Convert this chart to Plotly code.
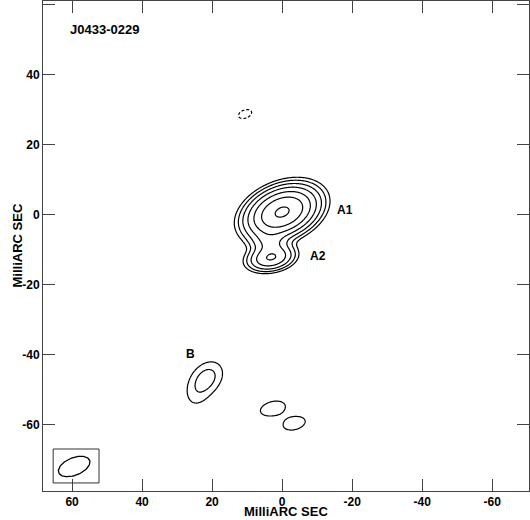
import numpy as np
import plotly.graph_objects as go

# ---- data: source components (relative milliarcsec, level units) ----
comp_names = ["A1", "A2", "bridge", "B", "B_ext", "C1", "C2", "neg"]
comp_x = [0.0, 3.2, 3.5, 21.4, 24.5, 2.7, -3.5, 10.6]
comp_y = [0.7, -12.4, -8.0, -46.6, -51.5, -55.4, -59.7, 28.7]
comp_peak = [70.0, 16.1, 7.5, 2.45, 1.0, 1.6, 1.5, -1.3]
comp_smaj = [4.9, 3.4, 2.9, 3.7, 3.6, 3.7, 3.5, 2.7]
comp_smin = [3.1, 1.85, 2.2, 2.8, 2.8, 2.0, 1.95, 1.6]
comp_pa = [22.0, 10.0, 0.0, 48.0, 70.0, 15.0, 15.0, 20.0]

pos_levels = [1, 2, 4, 8, 16, 32, 64]
neg_levels = [-1]

beam_x = [59.4]
beam_y = [-72.0]
beam_a = [4.75]
beam_b = [2.5]
beam_pa = [22.0]

tick_vals = [-60, -40, -20, 0, 20, 40, 60]
tick_text = ["-60", "-40", "-20", "0", "20", "40", "60"]

labels_text = ["A1", "A2", "B"]
labels_x = [-18.0, -10.3, 26.3]
labels_y = [1.3, -11.9, -39.9]

# ---- build model image ----
gx = np.arange(-16, 34, 0.2)
gy = np.arange(-68, 36, 0.2)
X, Y = np.meshgrid(gx, gy)
Z = np.zeros_like(X)
for x0, y0, p, sa, sb, pa in zip(comp_x, comp_y, comp_peak, comp_smaj, comp_smin, comp_pa):
    t = np.deg2rad(pa)
    dx = -(X - x0)  # display: east to the left
    dy = Y - y0
    u = dx * np.cos(t) + dy * np.sin(t)
    v = -dx * np.sin(t) + dy * np.cos(t)
    Z += p * np.exp(-0.5 * ((u / sa) ** 2 + (v / sb) ** 2))

Zpos = np.log2(np.clip(Z, 1e-3, None))
Zneg = Z.copy()

black = [[0, "black"], [1, "black"]]
fig = go.Figure()
fig.add_trace(go.Contour(
    x=gx, y=gy, z=np.round(Zpos, 3),
    contours=dict(start=np.log2(pos_levels[0]), end=np.log2(pos_levels[-1]), size=1, coloring="lines"),
    colorscale=black, showscale=False, line=dict(width=1.2), hoverinfo="skip"))
fig.add_trace(go.Contour(
    x=gx, y=gy, z=np.round(Zneg, 3),
    contours=dict(start=neg_levels[0], end=neg_levels[0], size=1, coloring="lines"),
    colorscale=black, showscale=False, line=dict(width=1.2, dash="3px,2px"), hoverinfo="skip"))

# beam ellipse
th = np.linspace(0, 2 * np.pi, 120)
t = np.deg2rad(beam_pa[0])
ex = beam_a[0] * np.cos(th) * np.cos(t) - beam_b[0] * np.sin(th) * np.sin(t)
ey = beam_a[0] * np.cos(th) * np.sin(t) + beam_b[0] * np.sin(th) * np.cos(t)
fig.add_trace(go.Scatter(x=beam_x[0] - ex, y=beam_y[0] + ey, mode="lines",
                         line=dict(color="black", width=1.3), hoverinfo="skip", showlegend=False))

fig.add_shape(type="rect", x0=65.4, x1=52.3, y0=-76.7, y1=-67.0,
              line=dict(color="#333", width=1), xref="x", yref="y")

fnt = dict(family="Liberation Sans, Arial, sans-serif", size=12, color="black", weight="bold")
fnt13 = dict(fnt, size=13)
for s, x, y in zip(labels_text, labels_x, labels_y):
    fig.add_annotation(x=x, y=y, text=s, showarrow=False, font=fnt)
fig.add_annotation(x=61.1, y=53.0, text="J0433-0229", showarrow=False, xanchor="left", font=fnt13)

# axis titles
fig.add_annotation(x=0.5, y=0, xref="paper", yref="paper", yshift=-29, text="MilliARC SEC",
                   showarrow=False, yanchor="bottom", font=fnt13, borderpad=0)
fig.add_annotation(x=0, y=0.5, xref="paper", yref="paper", xshift=-36, text="MilliARC SEC",
                   showarrow=False, textangle=-90, font=fnt13)

axis_common = dict(tickmode="array", tickvals=tick_vals, ticktext=tick_text, ticks="inside",
                   ticklen=12, tickwidth=1, tickcolor="#444", showline=True, linecolor="#444",
                   linewidth=1, mirror="ticks", showgrid=False, zeroline=False, tickfont=fnt,
                   automargin=False)
fig.update_layout(
    width=530, height=520, margin=dict(l=43, r=1, t=1, b=29),
    plot_bgcolor="white", paper_bgcolor="white", showlegend=False,
    xaxis=dict(range=[68.3, -70.5], **axis_common),
    yaxis=dict(range=[-79.0, 61.0], **axis_common),
)
fig.write_html("out.html", config={"displayModeBar": False},
               post_script="document.body.style.margin='0';")
